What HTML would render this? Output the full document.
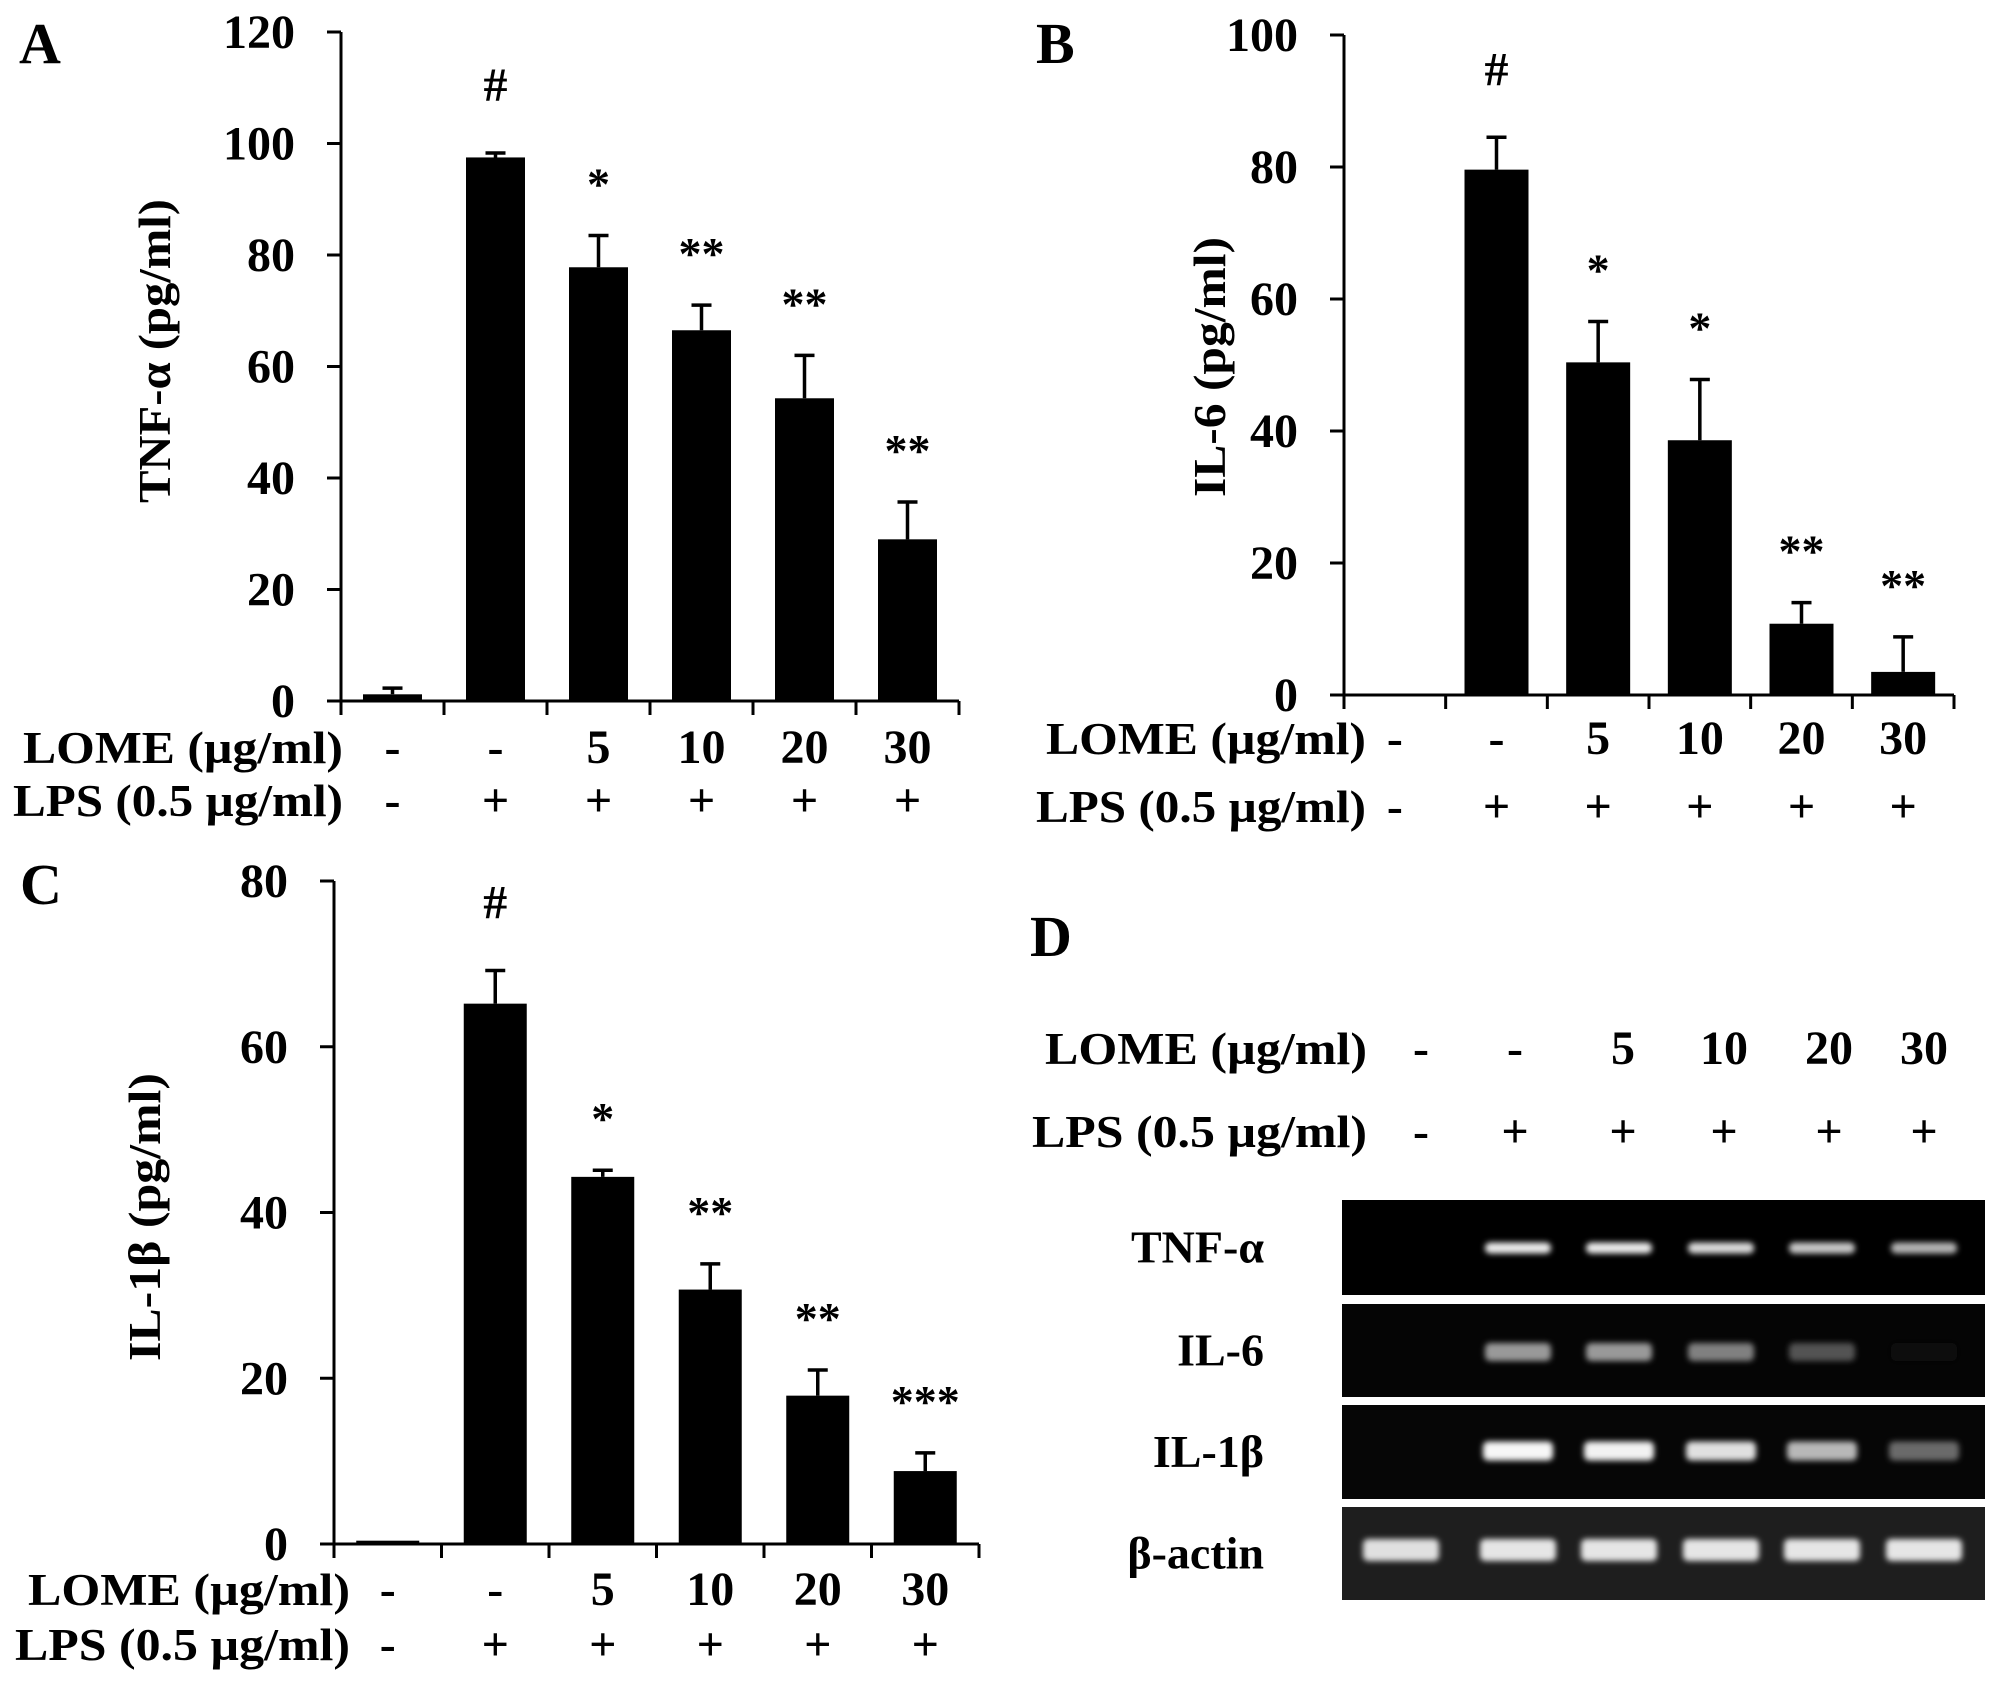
<!DOCTYPE html>
<html><head><meta charset="utf-8"><style>
html,body{margin:0;padding:0;background:#fff}
svg{display:block}
text{font-family:"Liberation Serif",serif;font-weight:bold;fill:#000}
</style></head><body>
<svg id="fig" width="2008" height="1684" viewBox="0 0 2008 1684" xmlns="http://www.w3.org/2000/svg"></svg>
<script>
const lomeLabels = ["-", "-", "5", "10", "20", "30"];
const lpsLabels = ["-", "+", "+", "+", "+", "+"];
const tnfValues = [1.2, 97.5, 77.8, 66.5, 54.3, 29.0];
const tnfErrors = [1.1, 0.8, 5.7, 4.5, 7.7, 6.7];
const tnfSig = ["", "#", "*", "**", "**", "**"];
const tnfTicks = [0, 20, 40, 60, 80, 100, 120];
const il6Values = [0, 79.6, 50.4, 38.6, 10.8, 3.5];
const il6Errors = [0, 4.9, 6.2, 9.2, 3.2, 5.3];
const il6Sig = ["", "#", "*", "*", "**", "**"];
const il6Ticks = [0, 20, 40, 60, 80, 100];
const il1Values = [0.4, 65.2, 44.3, 30.7, 17.9, 8.8];
const il1Errors = [0, 4.0, 0.8, 3.1, 3.1, 2.2];
const il1Sig = ["", "#", "*", "**", "**", "***"];
const il1Ticks = [0, 20, 40, 60, 80];
const gelTnf = [0, 0.92, 0.92, 0.85, 0.78, 0.7];
const gelIl6 = [0, 0.6, 0.6, 0.5, 0.32, 0.05];
const gelIl1 = [0, 0.97, 0.95, 0.88, 0.72, 0.42];
const gelActin = [0.88, 0.9, 0.9, 0.9, 0.9, 0.9];

const NS = "http://www.w3.org/2000/svg";
const svg = document.getElementById("fig");
function mk(tag, attrs, parent, txt) {
  const e = document.createElementNS(NS, tag);
  for (const k in attrs) e.setAttribute(k, attrs[k]);
  if (txt !== undefined) e.textContent = txt;
  (parent || svg).appendChild(e);
  return e;
}

function panel(cfg) {
  const g = mk("g", {});
  
  
  const max = cfg.ticks[cfg.ticks.length - 1];
  const y = v => cfg.y0 - (v / max) * (cfg.y0 - cfg.yTop);
  const step = (cfg.xRight - cfg.x0) / cfg.values.length;
  const cx = i => cfg.x0 + step * (i + 0.5);
  const L = mk("text", {x: cfg.letterX, y: cfg.letterY, "font-size": 58}, g, cfg.letter);
  
  
  cfg.values.forEach((v, i) => {
    if (v > 0) {
      const b = mk("rect", {x: cx(i) - cfg.bw / 2, y: y(v), width: cfg.bw, height: cfg.y0 - y(v), fill: "#000"}, g);
      
      
    }
    const e = cfg.errors[i];
    if (e > 0) {
      const top = y(v + e);
      const eb = mk("path", {d: `M${cx(i)},${y(v)}V${top}M${cx(i) - 10},${top}H${cx(i) + 10}`, stroke: "#000", "stroke-width": 3.5, fill: "none"}, g);
      
      
    }
    if (cfg.sig[i]) {
      const top = y(v + e);
      const isHash = cfg.sig[i] === "#";
      const s = mk("text", {x: cx(i), y: top - (isHash ? 52 : 36), "font-size": isHash ? 48 : 46, "text-anchor": "middle"}, g, cfg.sig[i]);
      
      
    }
  });
  const ax = mk("path", {d: `M${cfg.x0},${cfg.yTop}V${cfg.y0}H${cfg.xRight}`, stroke: "#000", "stroke-width": 3, fill: "none"}, g);
  
  
  cfg.ticks.forEach(t => {
    mk("line", {x1: cfg.x0 - 14, x2: cfg.x0, y1: y(t), y2: y(t), stroke: "#000", "stroke-width": 3}, g);
    const tl = mk("text", {x: cfg.x0 - 46, y: y(t) + 16, "font-size": 48, "text-anchor": "end"}, g, String(t));
    
    
  });
  for (let i = 0; i <= cfg.values.length; i++) {
    const x = cfg.x0 + step * i;
    mk("line", {x1: x, x2: x, y1: cfg.y0, y2: cfg.y0 + 14, stroke: "#000", "stroke-width": 3}, g);
  }
  const yt = mk("text", {x: 0, y: 0, "font-size": 46, "text-anchor": "middle", textLength: cfg.titleLen, lengthAdjust: "spacingAndGlyphs",
    transform: `translate(${cfg.titleX},${cfg.titleY}) rotate(-90)`}, g, cfg.title);
  
  
  rowLabels(g, cfg.labelRight, cfg.lomeY, cfg.lpsY, cfg.lomeLen, cfg.lpsLen, i => cx(i));
}

function rowLabels(g, right, lomeY, lpsY, lomeLen, lpsLen, colX) {
  const a = mk("text", {x: right, y: lomeY, "font-size": 45, "text-anchor": "end", textLength: lomeLen, lengthAdjust: "spacingAndGlyphs"}, g, "LOME (µg/ml)");
  
  
  const b = mk("text", {x: right, y: lpsY, "font-size": 45, "text-anchor": "end", textLength: lpsLen, lengthAdjust: "spacingAndGlyphs"}, g, "LPS (0.5 µg/ml)");
  
  
  lomeLabels.forEach((t, i) => {
    const e = mk("text", {x: colX(i), y: lomeY, "font-size": 48, "text-anchor": "middle"}, g, t);
    
    
  });
  lpsLabels.forEach((t, i) => {
    const e = mk("text", {x: colX(i), y: lpsY, "font-size": 48, "text-anchor": "middle"}, g, t);
    
    
  });
}

panel({name: "panel-a-tnf", letter: "A", letterX: 19, letterY: 63, values: tnfValues, errors: tnfErrors, sig: tnfSig, ticks: tnfTicks,
  x0: 341, xRight: 959, yTop: 32, y0: 701, bw: 59, title: "TNF-α (pg/ml)", titleX: 170, titleY: 351, titleLen: 304,
  labelRight: 343, lomeY: 763, lpsY: 816, lomeLen: 320, lpsLen: 330});
panel({name: "panel-b-il6", letter: "B", letterX: 1036, letterY: 63, values: il6Values, errors: il6Errors, sig: il6Sig, ticks: il6Ticks,
  x0: 1344, xRight: 1954, yTop: 35, y0: 695, bw: 64, title: "IL-6 (pg/ml)", titleX: 1225, titleY: 367, titleLen: 260,
  labelRight: 1366, lomeY: 754, lpsY: 822, lomeLen: 320, lpsLen: 330});
panel({name: "panel-c-il1b", letter: "C", letterX: 20, letterY: 904, values: il1Values, errors: il1Errors, sig: il1Sig, ticks: il1Ticks,
  x0: 334, xRight: 979, yTop: 881, y0: 1544, bw: 63, title: "IL-1β (pg/ml)", titleX: 160, titleY: 1217, titleLen: 288,
  labelRight: 350, lomeY: 1605, lpsY: 1660, lomeLen: 322, lpsLen: 335});

const gd = mk("g", {});


const dl = mk("text", {x: 1030, y: 956, "font-size": 58}, gd, "D");


const gelCols = [1421, 1515, 1623, 1724, 1829, 1924];
rowLabels(gd, 1367, 1064, 1147, 322, 335, i => gelCols[i]);
mk("defs", {}, gd).innerHTML =
  '<filter id="blur" x="-20%" y="-60%" width="140%" height="220%"><feGaussianBlur stdDeviation="3"/></filter>';
const lanes = [1401, 1518, 1619, 1721, 1822, 1924];
const gelRows = [
  {name: "TNF-α", vals: gelTnf, top: 1200, bot: 1295, by: 1248, bh: 11, bw: 66, bg: "#000"},
  {name: "IL-6", vals: gelIl6, top: 1304, bot: 1397, by: 1352, bh: 18, bw: 66, bg: "#050505"},
  {name: "IL-1β", vals: gelIl1, top: 1405, bot: 1499, by: 1451, bh: 19, bw: 70, bg: "#060606"},
  {name: "β-actin", vals: gelActin, top: 1507, bot: 1600, by: 1550, bh: 22, bw: 76, bg: "#1e1e1e"}
];
gelRows.forEach(r => {
  const bg = mk("rect", {x: 1342, y: r.top, width: 643, height: r.bot - r.top, fill: r.bg}, gd);
  
  
  const lab = mk("text", {x: 1264, y: (r.top + r.bot) / 2 + 15, "font-size": 46, "text-anchor": "end"}, gd, r.name);
  
  
  r.vals.forEach((v, i) => {
    if (v <= 0) return;
    const c = Math.round(255 * v);
    const b = mk("rect", {x: lanes[i] - r.bw / 2, y: r.by - r.bh / 2, width: r.bw, height: r.bh, rx: 5, fill: `rgb(${c},${c},${c})`, filter: "url(#blur)"}, gd);
    
    
  });
});
</script>
</body></html>
